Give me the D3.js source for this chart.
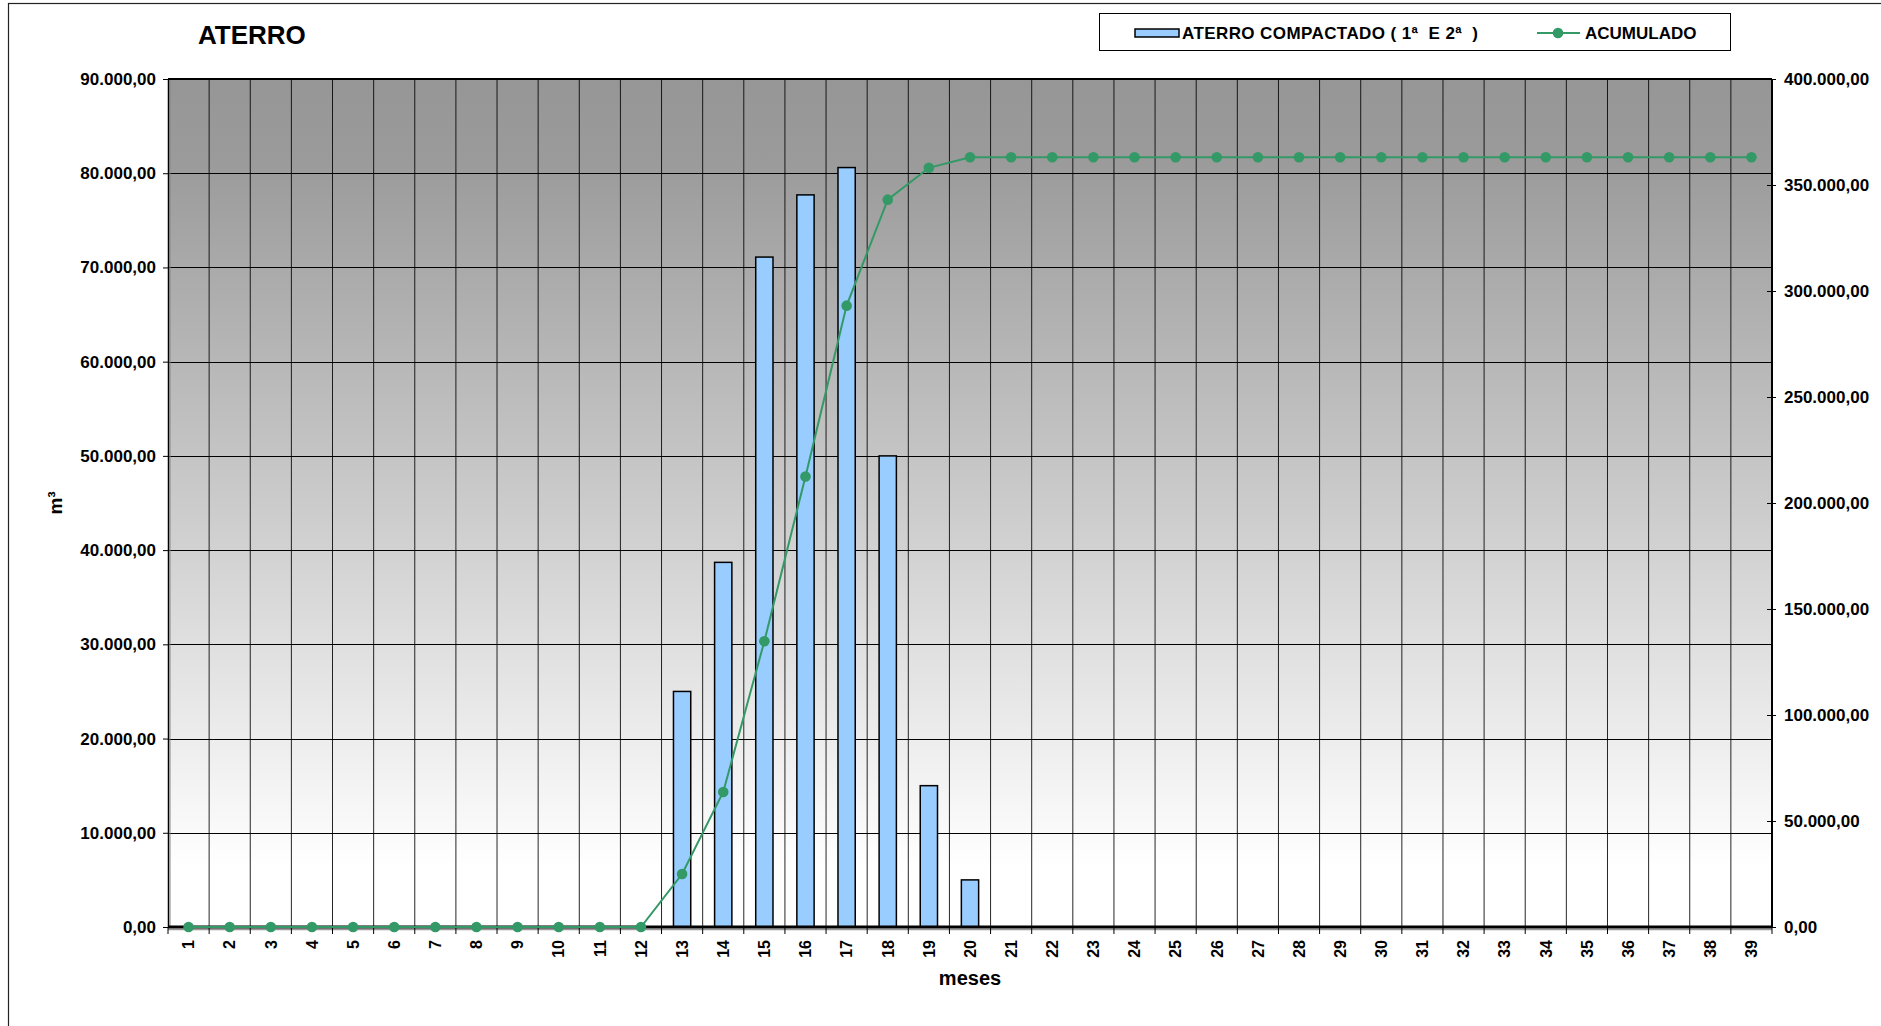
<!DOCTYPE html>
<html>
<head>
<meta charset="utf-8">
<script src="https://cdn.jsdelivr.net/npm/d3@7"></script>
<style>
    body { margin: 0; background: #fff; }
    text { font-family: "Liberation Sans", Arial, sans-serif; font-weight: bold; fill: #000; }
</style>
</head>
<body>
<div id="chart"></div>
<script>
// months on the x axis
var meses = d3.range(1, 40).map(String);

// ATERRO COMPACTADO (1a e 2a), m3 per month
var aterro = [0, 0, 0, 0, 0, 0, 0, 0, 0, 0, 0, 0,
    25000, 38700, 71100, 77700, 80600, 50000, 15000, 5000,
    0, 0, 0, 0, 0, 0, 0, 0, 0, 0, 0, 0, 0, 0, 0, 0, 0, 0, 0];

// ACUMULADO (right axis)
var acumulado = [0, 0, 0, 0, 0, 0, 0, 0, 0, 0, 0, 0,
    25000, 63700, 134800, 212500, 293100, 343100, 358100, 363100,
    363100, 363100, 363100, 363100, 363100, 363100, 363100, 363100, 363100, 363100,
    363100, 363100, 363100, 363100, 363100, 363100, 363100, 363100, 363100];

var leftTicks = d3.range(0, 90001, 10000);
var rightTicks = d3.range(0, 400001, 50000);

var W = 1881, H = 1026;
// plot area
var margin = {top: 79, right: 109, bottom: 99, left: 168},
    width = W - margin.left - margin.right,
    height = H - margin.top - margin.bottom;

var ptBR = d3.formatLocale({decimal: ",", thousands: ".", grouping: [3], currency: ["R$", ""]});
var fmt = ptBR.format(",.2f");

var svg = d3.select("#chart")
    .append("svg")
    .attr("width", W)
    .attr("height", H);

// outer chart frame
svg.append("rect")
    .attr("x", 8.5).attr("y", 3.5)
    .attr("width", 1950).attr("height", 1100)
    .attr("fill", "#fff")
    .attr("stroke", "#222")
    .attr("stroke-width", 1.2);

var defs = svg.append("defs");
var grad = defs.append("linearGradient")
    .attr("id", "bg").attr("x1", 0).attr("y1", 0).attr("x2", 0).attr("y2", 1);
grad.append("stop").attr("offset", "0%").attr("stop-color", "#969696");
grad.append("stop").attr("offset", "10%").attr("stop-color", "#9b9b9b");
grad.append("stop").attr("offset", "93%").attr("stop-color", "#ffffff");

var g = svg.append("g")
    .attr("transform", "translate(" + margin.left + "," + margin.top + ")");

var x = d3.scaleBand()
    .domain(meses)
    .range([0, width])
    .paddingInner(0)
    .paddingOuter(0);

var y = d3.scaleLinear().domain([0, 90000]).range([height, 0]);
var y2 = d3.scaleLinear().domain([0, 400000]).range([height, 0]);

// plot background
g.append("rect")
    .attr("width", width)
    .attr("height", height)
    .attr("fill", "url(#bg)");

// horizontal grid
g.append("g")
    .selectAll("line")
    .data(leftTicks.slice(1))
    .enter()
    .append("line")
    .attr("x1", 0).attr("x2", width)
    .attr("y1", function(d) { return Math.round(y(d)) + 0.5; })
    .attr("y2", function(d) { return Math.round(y(d)) + 0.5; })
    .attr("stroke", "#000")
    .attr("stroke-width", 1);

// vertical grid at category boundaries
g.append("g")
    .selectAll("line")
    .data(meses.slice(1))
    .enter()
    .append("line")
    .attr("x1", function(d) { return x(d); })
    .attr("x2", function(d) { return x(d); })
    .attr("y1", 0).attr("y2", height)
    .attr("stroke", "#000")
    .attr("stroke-opacity", 0.85)
    .attr("stroke-width", 1);

// bars
var barW = x.bandwidth() * 0.42;
g.append("g")
    .selectAll("rect")
    .data(aterro.map(function(v, i) { return {mes: meses[i], v: v}; }).filter(function(d) { return d.v > 0; }))
    .enter()
    .append("rect")
    .attr("x", function(d) { return x(d.mes) + (x.bandwidth() - barW) / 2; })
    .attr("y", function(d) { return y(d.v); })
    .attr("width", barW)
    .attr("height", function(d) { return height - y(d.v); })
    .attr("fill", "#99ccff")
    .attr("stroke", "#000")
    .attr("stroke-width", 1.5);

// frame lines: left, top, right, bottom
g.append("line").attr("x1", 0.5).attr("x2", 0.5).attr("y1", 0).attr("y2", height)
    .attr("stroke", "#000").attr("stroke-width", 1.5);
g.append("line").attr("x1", 2).attr("x2", 2).attr("y1", 1).attr("y2", height)
    .attr("stroke", "#888").attr("stroke-width", 1);
g.append("line").attr("x1", 0).attr("x2", width).attr("y1", 0).attr("y2", 0)
    .attr("stroke", "#000").attr("stroke-width", 2);
g.append("line").attr("x1", width).attr("x2", width).attr("y1", 0).attr("y2", height)
    .attr("stroke", "#000").attr("stroke-width", 2);
g.append("line").attr("x1", 0).attr("x2", width).attr("y1", height + 2.5).attr("y2", height + 2.5)
    .attr("stroke", "#999").attr("stroke-width", 1.5);
g.append("line").attr("x1", 0).attr("x2", width).attr("y1", height).attr("y2", height)
    .attr("stroke", "#000").attr("stroke-width", 3);

// left axis
var yAxis = g.append("g")
    .call(d3.axisLeft(y).tickValues(leftTicks).tickSize(5).tickPadding(7).tickFormat(fmt));
yAxis.select(".domain").remove();
yAxis.selectAll("line").attr("stroke", "#000");
yAxis.selectAll("text").style("font-size", "17px");

// right axis
var y2Axis = g.append("g")
    .attr("transform", "translate(" + width + ",0)")
    .call(d3.axisRight(y2).tickValues(rightTicks).tickSizeInner(4).tickSizeOuter(0).tickPadding(8).tickFormat(fmt));
y2Axis.select(".domain").remove();
y2Axis.selectAll(".tick line").attr("x1", -5).attr("stroke", "#000");
y2Axis.selectAll("text").style("font-size", "17px");

// x axis ticks at boundaries
g.append("g")
    .selectAll("line")
    .data(meses.concat(["end"]))
    .enter()
    .append("line")
    .attr("x1", function(d, i) { return i * x.bandwidth(); })
    .attr("x2", function(d, i) { return i * x.bandwidth(); })
    .attr("y1", height).attr("y2", height + 7)
    .attr("stroke", "#000")
    .attr("stroke-width", 1);

// x labels, rotated
g.append("g")
    .selectAll("text")
    .data(meses)
    .enter()
    .append("text")
    .attr("transform", function(d) {
        return "translate(" + (x(d) + x.bandwidth() / 2) + "," + (height + 13) + ") rotate(-90)";
    })
    .attr("dy", "0.36em")
    .attr("text-anchor", "end")
    .style("font-size", "16px")
    .text(function(d) { return d; });

// cumulative line
var line = d3.line()
    .x(function(d, i) { return x(meses[i]) + x.bandwidth() / 2; })
    .y(function(d) { return y2(d); });

g.append("path")
    .datum(acumulado)
    .attr("d", line)
    .attr("fill", "none")
    .attr("stroke", "#339966")
    .attr("stroke-width", 2);

g.append("g")
    .selectAll("circle")
    .data(acumulado)
    .enter()
    .append("circle")
    .attr("cx", function(d, i) { return x(meses[i]) + x.bandwidth() / 2; })
    .attr("cy", function(d) { return y2(d); })
    .attr("r", 5.3)
    .attr("fill", "#339966");

// titles
svg.append("text")
    .attr("x", 198).attr("y", 44)
    .style("font-size", "26px")
    .text("ATERRO");

svg.append("text")
    .attr("transform", "translate(62,503) rotate(-90)")
    .attr("text-anchor", "middle")
    .style("font-size", "19px")
    .text("m³");

svg.append("text")
    .attr("x", 970).attr("y", 985)
    .attr("text-anchor", "middle")
    .style("font-size", "20px")
    .text("meses");

// legend
var legend = svg.append("g");
legend.append("rect")
    .attr("x", 1099.5).attr("y", 13.5)
    .attr("width", 631).attr("height", 37)
    .attr("fill", "#fff")
    .attr("stroke", "#000")
    .attr("stroke-width", 1);
legend.append("rect")
    .attr("x", 1135).attr("y", 29)
    .attr("width", 44).attr("height", 8)
    .attr("fill", "#99ccff")
    .attr("stroke", "#000")
    .attr("stroke-width", 1.5);
legend.append("text")
    .attr("x", 1182).attr("y", 39)
    .attr("textLength", 296)
    .attr("lengthAdjust", "spacing")
    .style("font-size", "17px")
    .style("white-space", "pre")
    .text("ATERRO COMPACTADO ( 1ª  E 2ª  )");
legend.append("line")
    .attr("x1", 1537).attr("x2", 1580).attr("y1", 33).attr("y2", 33)
    .attr("stroke", "#339966").attr("stroke-width", 2);
legend.append("circle")
    .attr("cx", 1558).attr("cy", 33).attr("r", 5.3)
    .attr("fill", "#339966");
legend.append("text")
    .attr("x", 1585).attr("y", 39)
    .style("font-size", "17px")
    .text("ACUMULADO");
</script>
</body>
</html>
